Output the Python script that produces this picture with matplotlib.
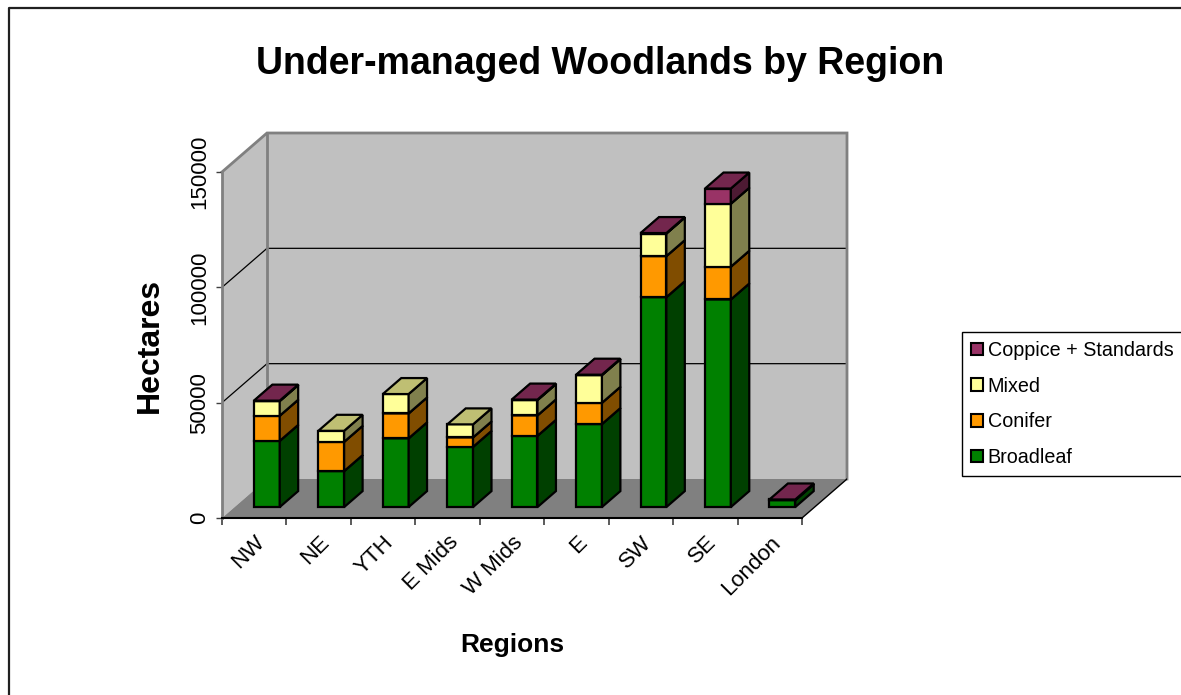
import matplotlib
matplotlib.use('Agg')
import matplotlib.pyplot as plt
from matplotlib.patches import Polygon, Patch
from matplotlib.lines import Line2D

regions = ['NW', 'NE', 'YTH', 'E Mids', 'W Mids', 'E', 'SW', 'SE', 'London']
broadleaf = [28700, 15600, 29800, 26100, 30900, 36000, 91000, 90000, 3000]
conifer = [10900, 12700, 10800, 4100, 8850, 9200, 17800, 14200, 0]
mixed = [6350, 4770, 8400, 5650, 6650, 12000, 9800, 27300, 0]
coppice = [200, 0, 0, 0, 200, 200, 200, 6600, 300]
series_names = ['Broadleaf', 'Conifer', 'Mixed', 'Coppice + Standards']
yticks = [0, 50000, 100000, 150000]

front_col = ['#008000', '#FF9900', '#FFFF99', '#993366']
side_col = ['#004000', '#804D00', '#80804D', '#4D1A33']
top_col = ['#006000', '#BF7300', '#BFBF73', '#73264D']

plt.rcParams['font.family'] = 'Liberation Sans'

W, H = 1181, 695
fig = plt.figure(figsize=(W / 100, H / 100), dpi=100)

# front plane of the 3d box in pixels -> data units
px_cat = (802 - 222) / 9
px_val = (518 - 172) / 150000
DX = 45 / px_cat        # depth shift, category units
DY = 39 / px_val        # depth shift, value units
ncat = len(regions)

ax = fig.add_axes([222 / W, (H - 518) / H, (847 - 222) / W, (518 - 133) / H])
ax.set_xlim(0, ncat + DX)
ax.set_ylim(0, 150000 + DY)
ax.patch.set_visible(False)

# walls and floor
ymax = yticks[-1]
ax.add_patch(Polygon([(DX, DY), (ncat + DX, DY), (ncat + DX, ymax + DY), (DX, ymax + DY)],
                     closed=True, fc='#C0C0C0', ec='none', zorder=0))
ax.add_patch(Polygon([(0, 0), (DX, DY), (DX, ymax + DY), (0, ymax)],
                     closed=True, fc='#C0C0C0', ec='none', zorder=0))
ax.add_patch(Polygon([(0, 0), (ncat, 0), (ncat + DX, DY), (DX, DY)],
                     closed=True, fc='#808080', ec='none', zorder=0))

# gridlines on back and left wall
for v in yticks[1:-1]:
    ax.plot([0, DX, ncat + DX], [v, v + DY, v + DY], color='black', lw=0.9, zorder=1)

# wall borders
wall = dict(color='#808080', lw=2, zorder=1, solid_joinstyle='miter', clip_on=False)
ax.plot([0, DX, ncat + DX, ncat + DX], [ymax, ymax + DY, ymax + DY, DY], **wall)
ax.plot([DX, DX], [DY, ymax + DY], **wall)
ax.plot([ncat, ncat + DX], [0, DY], color='black', lw=1, zorder=1)

# bars
bw = 0.40
d0 = 0.28
bdx = 0.41 * DX
bdy = 0.41 * DY


def box(x0, y0, h, k):
    x1 = x0 + bw
    y1 = y0 + h
    faces = [
        ([(x0, y0), (x1, y0), (x1, y1), (x0, y1)], front_col[k]),
        ([(x1, y0), (x1 + bdx, y0 + bdy), (x1 + bdx, y1 + bdy), (x1, y1)], side_col[k]),
        ([(x0, y1), (x1, y1), (x1 + bdx, y1 + bdy), (x0 + bdx, y1 + bdy)], top_col[k]),
    ]
    for pts, c in faces:
        ax.add_patch(Polygon(pts, closed=True, fc=c, ec='black', lw=1.6,
                             joinstyle='miter', zorder=3, clip_on=False))


data = [broadleaf, conifer, mixed, coppice]
for i in range(ncat):
    x0 = i + 0.5 - bw / 2 + d0 * DX
    base = d0 * DY
    for k, vals in enumerate(data):
        if vals[i] > 0:
            box(x0, base, vals[i], k)
            base += vals[i]

# axes
for s in ['top', 'right']:
    ax.spines[s].set_visible(False)
ax.spines['left'].set_bounds(0, ymax)
ax.spines['left'].set_color('#808080')
ax.spines['left'].set_linewidth(2)
ax.spines['bottom'].set_bounds(0, ncat)
ax.spines['bottom'].set_color('black')
ax.spines['bottom'].set_linewidth(1.5)
ax.spines['left'].set_zorder(2)
ax.spines['bottom'].set_zorder(2)

ax.set_yticks(yticks)
ax.set_yticklabels([str(v) for v in yticks], rotation=90, va='center')
ax.tick_params(axis='y', length=4.5, width=1, color='#404040', labelsize=16, pad=4)

ax.set_xticks([i + 0.5 for i in range(ncat)])
ax.set_xticklabels(regions, rotation=45, ha='right', rotation_mode='anchor')
ax.set_xticks(range(ncat + 1), minor=True)
ax.tick_params(axis='x', which='major', length=0, labelsize=16, pad=10)
ax.tick_params(axis='x', which='minor', length=5, width=1.2, color='#404040')

# texts
fig.text(600 / W, 1 - 74 / H, 'Under-managed Woodlands by Region', ha='center', va='baseline',
         fontsize=27, fontweight='bold')
fig.text(150 / W, 1 - 345 / H, 'Hectares', rotation=90, ha='center', va='center',
         fontsize=23, fontweight='bold')
fig.text(512 / W, 1 - 652 / H, 'Regions', ha='center', va='baseline',
         fontsize=19, fontweight='bold')

handles = [Patch(fc=front_col[k], ec='black', lw=1.5) for k in range(3, -1, -1)]
labels = [series_names[k] for k in range(3, -1, -1)]
leg = fig.legend(handles, labels, loc='upper left', bbox_to_anchor=(962 / W, 1 - 332 / H),
                 borderaxespad=0, fancybox=False, edgecolor='black', fontsize=14.2,
                 handlelength=0.6, handleheight=0.6, handletextpad=0.25,
                 labelspacing=0.85, borderpad=0.45, framealpha=1)
leg.get_frame().set_linewidth(1)

# outer chart border (cut at right and bottom)
fig.add_artist(Line2D([9.5 / W, 9.5 / W, 1], [0, 1 - 7.5 / H, 1 - 7.5 / H],
                      transform=fig.transFigure, color='#202020', lw=1.6))

fig.savefig('out.png', dpi=100)
